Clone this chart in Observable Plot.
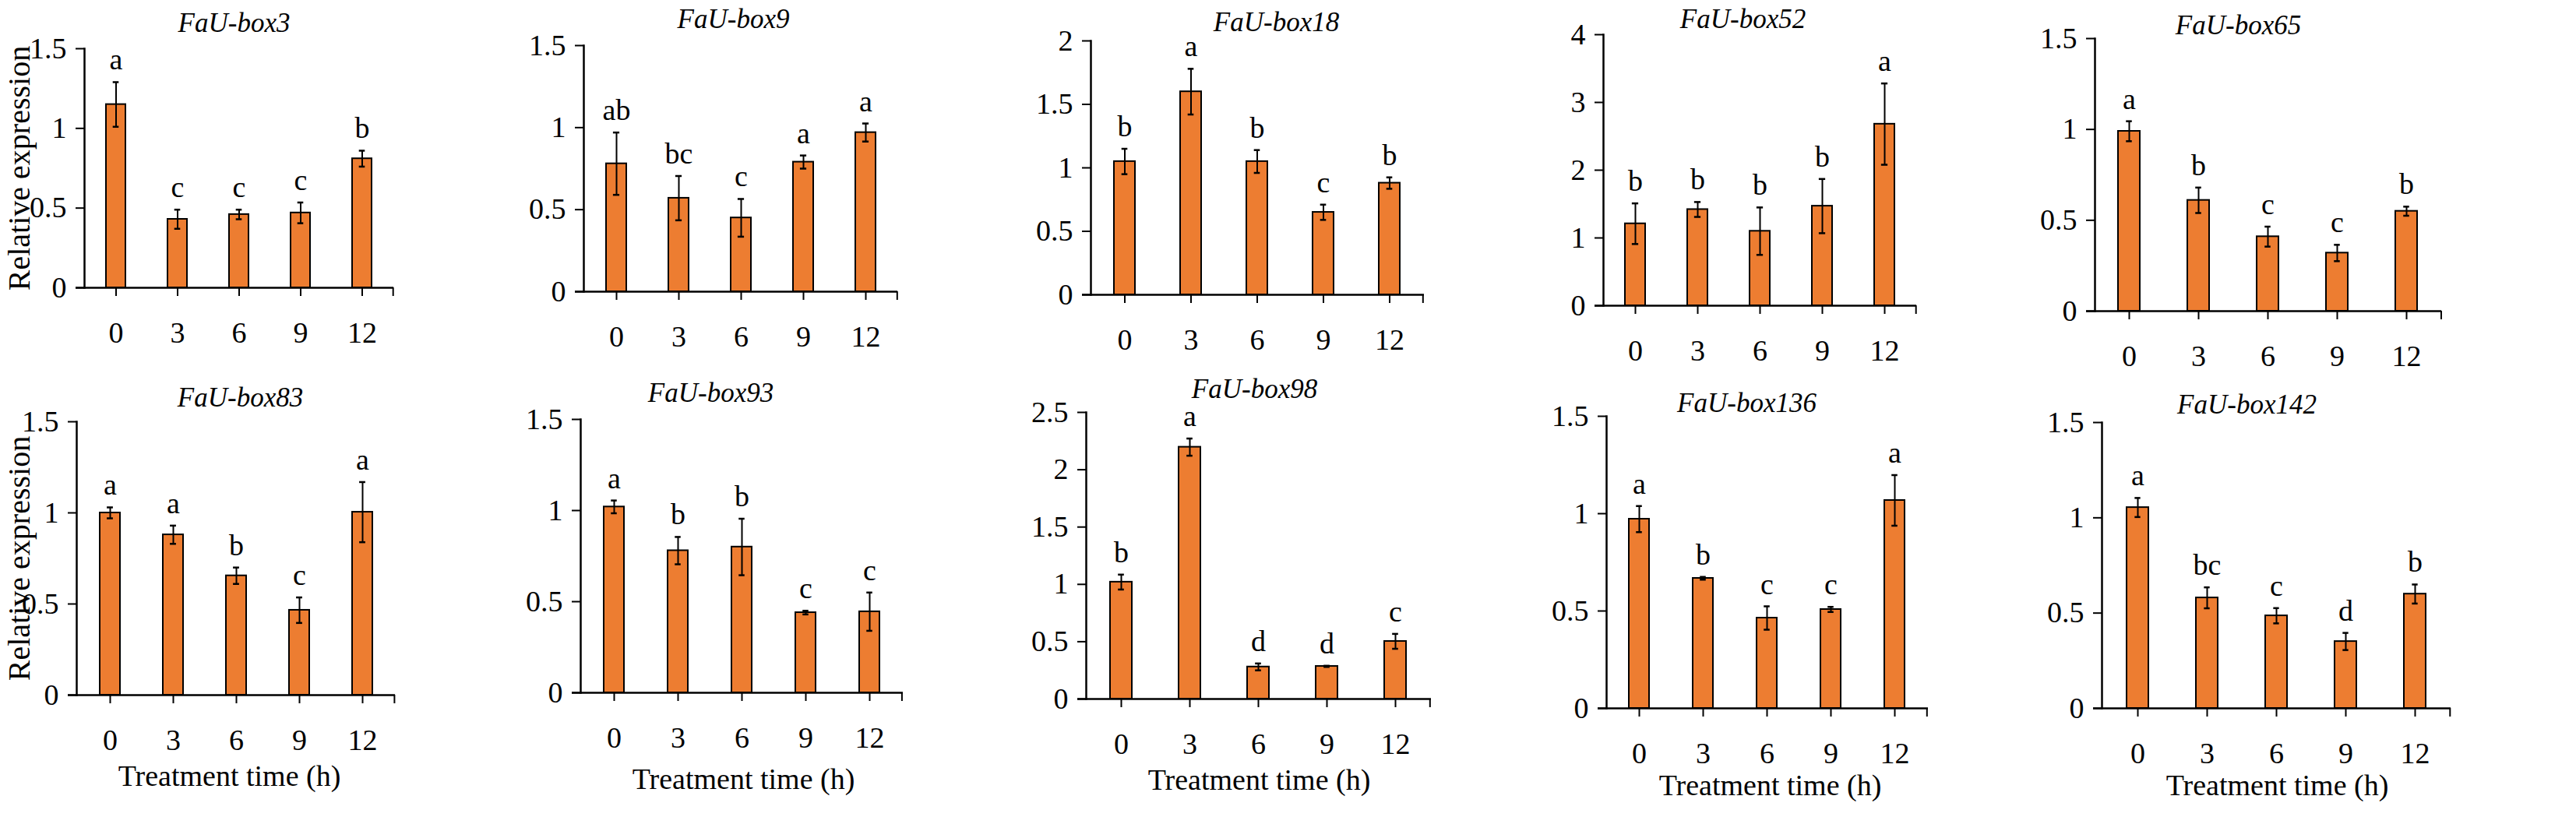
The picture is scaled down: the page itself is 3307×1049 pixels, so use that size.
<!DOCTYPE html>
<html><head><meta charset="utf-8">
<script src="https://cdn.jsdelivr.net/npm/d3@7"></script>
<script src="https://cdn.jsdelivr.net/npm/@observablehq/plot@0.6"></script>
<style>
html,body{margin:0;padding:0;background:#fff;}
#fig{position:relative;width:3307px;height:1049px;overflow:hidden;background:#fff;}
#fig svg{position:absolute;overflow:visible;}
</style></head><body><div id="fig"></div>
<script>
// ---- data ----
const times = ["0", "3", "6", "9", "12"];
const genes = ["FaU-box3", "FaU-box9", "FaU-box18", "FaU-box52", "FaU-box65",
               "FaU-box83", "FaU-box93", "FaU-box98", "FaU-box136", "FaU-box142"];

const expr3   = [1.15, 0.43, 0.46, 0.47, 0.81];
const err3    = [0.14, 0.06, 0.03, 0.065, 0.05];
const sig3    = ["a", "c", "c", "c", "b"];

const expr9   = [0.78, 0.57, 0.45, 0.79, 0.97];
const err9    = [0.19, 0.135, 0.115, 0.04, 0.055];
const sig9    = ["ab", "bc", "c", "a", "a"];

const expr18  = [1.05, 1.60, 1.05, 0.65, 0.88];
const err18   = [0.10, 0.18, 0.09, 0.06, 0.045];
const sig18   = ["b", "a", "b", "c", "b"];

const expr52  = [1.21, 1.42, 1.10, 1.47, 2.68];
const err52   = [0.30, 0.11, 0.35, 0.40, 0.60];
const sig52   = ["b", "b", "b", "b", "a"];

const expr65  = [0.99, 0.61, 0.41, 0.32, 0.55];
const err65   = [0.055, 0.07, 0.055, 0.045, 0.025];
const sig65   = ["a", "b", "c", "c", "b"];

const expr83  = [1.00, 0.88, 0.655, 0.466, 1.004];
const err83   = [0.03, 0.05, 0.045, 0.07, 0.165];
const sig83   = ["a", "a", "b", "c", "a"];

const expr93  = [1.02, 0.78, 0.80, 0.44, 0.445];
const err93   = [0.035, 0.075, 0.155, 0.01, 0.105];
const sig93   = ["a", "b", "b", "c", "c"];

const expr98  = [1.02, 2.197, 0.28, 0.285, 0.503];
const err98   = [0.065, 0.075, 0.03, 0.005, 0.065];
const sig98   = ["b", "a", "d", "d", "c"];

const expr136 = [0.972, 0.668, 0.464, 0.508, 1.068];
const err136  = [0.067, 0.007, 0.06, 0.013, 0.13];
const sig136  = ["a", "b", "c", "c", "a"];

const expr142 = [1.054, 0.58, 0.486, 0.351, 0.60];
const err142  = [0.05, 0.055, 0.04, 0.045, 0.05];
const sig142  = ["a", "bc", "c", "d", "b"];

const ticks15 = [0, 0.5, 1, 1.5];
const ticks2  = [0, 0.5, 1, 1.5, 2];
const ticks25 = [0, 0.5, 1, 1.5, 2, 2.5];
const ticks4  = [0, 1, 2, 3, 4];

const yLabel = "Relative expression";
const xLabel = "Treatment time (h)";

const panels = [
  {v: expr3,   e: err3,   s: sig3,   ticks: ticks15},
  {v: expr9,   e: err9,   s: sig9,   ticks: ticks15},
  {v: expr18,  e: err18,  s: sig18,  ticks: ticks2},
  {v: expr52,  e: err52,  s: sig52,  ticks: ticks4},
  {v: expr65,  e: err65,  s: sig65,  ticks: ticks15},
  {v: expr83,  e: err83,  s: sig83,  ticks: ticks15},
  {v: expr93,  e: err93,  s: sig93,  ticks: ticks15},
  {v: expr98,  e: err98,  s: sig98,  ticks: ticks25},
  {v: expr136, e: err136, s: sig136, ticks: ticks15},
  {v: expr142, e: err142, s: sig142, ticks: ticks15}
];

// ---- layout (page pixels) ----
const layout = [
  {L: 108,  R: 505,  T: 62,  B: 369, tx: 300,  ty: 40,  box: [0, 0, 660, 470], ylab: true},
  {L: 749,  R: 1152, T: 58,  B: 374, tx: 941,  ty: 35,  box: [660, 0, 660, 470]},
  {L: 1400, R: 1828, T: 52,  B: 378, tx: 1638, ty: 39,  box: [1320, 0, 670, 470]},
  {L: 2058, R: 2460, T: 44,  B: 392, tx: 2237, ty: 35,  box: [1990, 0, 570, 470]},
  {L: 2689, R: 3134, T: 49,  B: 399, tx: 2873, ty: 43,  box: [2560, 0, 747, 470]},
  {L: 98,   R: 507,  T: 541, B: 892, tx: 308,  ty: 521, box: [0, 470, 660, 579], ylab: true, xl: [294, 1008]},
  {L: 745,  R: 1159, T: 538, B: 889, tx: 912,  ty: 515, box: [660, 470, 660, 579], xl: [954, 1012]},
  {L: 1394, R: 1837, T: 529, B: 897, tx: 1610, ty: 510, box: [1320, 470, 670, 579], xl: [1616, 1013]},
  {L: 2062, R: 2475, T: 534, B: 909, tx: 2242, ty: 528, box: [1990, 470, 570, 579], xl: [2272, 1020]},
  {L: 2698, R: 3146, T: 542, B: 909, tx: 2884, ty: 530, box: [2560, 470, 747, 579], xl: [2923, 1020]}
];

const FONT = '"Liberation Serif","Times New Roman",Times,serif';
const fig = document.getElementById("fig");

panels.forEach((p, i) => {
  const g = layout[i];
  const [bx, by, bw, bh] = g.box;
  const data = times.map((t, j) => ({t, v: p.v[j], e: p.e[j], s: p.s[j]}));
  const step = (g.R - g.L) / times.length;
  const bandw = step * 0.32;
  const capInset = Math.max(0, (bandw - 8) / 2);
  const ymax = p.ticks[p.ticks.length - 1];
  const marks = [
    Plot.barY(data, {x: "t", y: "v", fill: "#ED7D31", stroke: "#000", strokeWidth: 2}),
    Plot.ruleX(data, {x: "t", y1: d => d.v - d.e, y2: d => d.v + d.e, stroke: "#000", strokeWidth: 2}),
    Plot.tickY(data, {x: "t", y: d => d.v + d.e, insetLeft: capInset, insetRight: capInset, stroke: "#000", strokeWidth: 2.5}),
    Plot.tickY(data, {x: "t", y: d => d.v - d.e, insetLeft: capInset, insetRight: capInset, stroke: "#000", strokeWidth: 2.5}),
    Plot.text(data, {x: "t", y: d => d.v + d.e, text: "s", dy: -16, lineAnchor: "bottom", fontSize: 38, fill: "#000"}),
    Plot.frame({anchor: "left", stroke: "#000", strokeWidth: 2.5}),
    Plot.ruleY([0], {insetLeft: -11, stroke: "#000", strokeWidth: 2.5}),
    Plot.ruleX([times[times.length - 1]], {y1: 0, y2: 0, dx: step / 2, insetBottom: -11, stroke: "#000", strokeWidth: 2}),
    Plot.axisY({ticks: p.ticks, tickSize: 11, tickPadding: 12, tickFormat: d => String(d), fontSize: 38, strokeWidth: 2, label: null}),
    Plot.axisX({tickSize: 11, tickPadding: 33, fontSize: 38, strokeWidth: 2, label: null}),
    Plot.text([genes[i]], {frameAnchor: "top", textAnchor: "middle", dx: g.tx - (g.L + g.R) / 2, dy: g.ty - g.T, lineAnchor: "bottom", fontSize: 35, fontStyle: "italic", fill: "#000"})
  ];
  if (g.ylab) {
    marks.push(Plot.text([yLabel], {frameAnchor: "left", textAnchor: "middle", rotate: -90, dx: 37 - g.L, lineAnchor: "bottom", fontSize: 40, fill: "#000"}));
  }
  if (g.xl) {
    marks.push(Plot.text([xLabel], {frameAnchor: "bottom", textAnchor: "middle", dx: g.xl[0] - (g.L + g.R) / 2, dy: g.xl[1] - g.B, lineAnchor: "bottom", fontSize: 38, fill: "#000"}));
  }
  const svg = Plot.plot({
    width: bw, height: bh,
    marginLeft: g.L - bx, marginRight: bx + bw - g.R,
    marginTop: g.T - by, marginBottom: by + bh - g.B,
    x: {type: "band", domain: times, paddingInner: 0.68, paddingOuter: 0.34, label: null},
    y: {domain: [0, ymax], label: null},
    style: {fontFamily: FONT, color: "#000", background: "transparent", overflow: "visible"},
    marks
  });
  svg.style.position = "absolute";
  svg.style.left = bx + "px";
  svg.style.top = by + "px";
  svg.style.maxWidth = "none";
  fig.appendChild(svg);
});
</script>
</body></html>
